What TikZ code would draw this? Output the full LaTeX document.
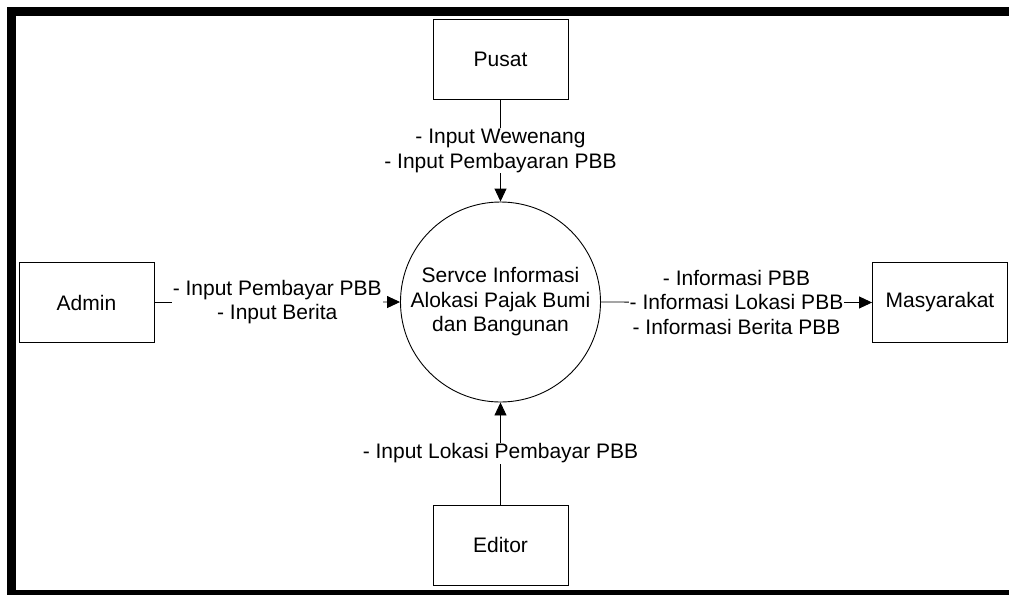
\documentclass[tikz,border=0pt]{standalone}
\usepackage{fontspec}
\setmainfont{Liberation Sans}
\usetikzlibrary{arrows.meta}
\begin{document}
\begin{tikzpicture}[x=1pt,y=-1pt,
  every node/.style={font=\fontsize{21}{24.5}\selectfont},
  entity/.style={draw, line width=0.9pt, minimum width=135pt, minimum height=80pt, inner sep=0pt},
  proc/.style={draw, circle, line width=0.9pt, minimum size=200pt, inner sep=0pt, align=center},
  flow/.style={line width=0.9pt, -{Triangle[length=13pt,width=12pt]}},
  lbl/.style={fill=white, align=center, inner sep=1pt}
]
\useasboundingbox (0,0) rectangle (1009,595);
% frame
\fill (7,7) rectangle (16,595);
\fill (7,7) rectangle (1009,16);
\fill (7,590) rectangle (1009,595);
% nodes
\node[entity] (pusat) at (500.5,59.5) {Pusat};
\node[entity] (admin) at (86.5,302.5) {Admin};
\node[entity] (masy) at (940,302.5) {Masyarakat};
\node[entity] (editor) at (500.5,545) {Editor};
\node[proc] (proc) at (500.5,302) {Servce Informasi\\Alokasi Pajak Bumi\\dan Bangunan};
% flows
\draw[flow] (pusat.south) -- node[lbl] {- Input Wewenang\\- Input Pembayaran PBB} (proc.north);
\draw[flow] (admin.east) -- node[lbl] {- Input Pembayar PBB\\- Input Berita} (proc.west);
\draw[flow] (proc.east) -- node[lbl] {- Informasi PBB\\- Informasi Lokasi PBB\\- Informasi Berita PBB} (masy.west);
\draw[flow] (editor.north) -- node[lbl] {- Input Lokasi Pembayar PBB} (proc.south);
\end{tikzpicture}
\end{document}
